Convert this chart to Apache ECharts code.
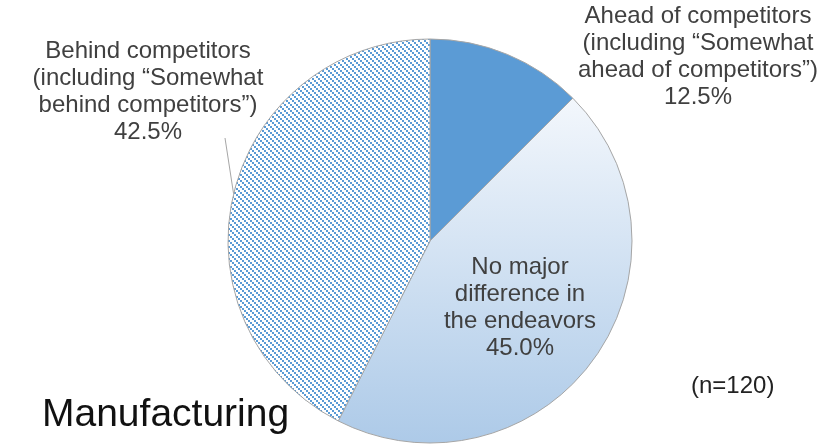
<!DOCTYPE html>
<html>
<head>
<meta charset="utf-8">
<script src="https://cdn.jsdelivr.net/npm/echarts@6/dist/echarts.min.js"></script>
<style>
html,body{margin:0;padding:0;background:#fff;}
#chart{width:837px;height:448px;}
</style>
</head>
<body>
<div id="chart"></div>
<script>
// Data
var categories = [
  'Ahead of competitors\n(including \u201cSomewhat\nahead of competitors\u201d)',
  'No major\ndifference in\nthe endeavors',
  'Behind competitors\n(including \u201cSomewhat\nbehind competitors\u201d)'
];
var values = [12.5, 45.0, 42.5];
var chartTitle = 'Manufacturing';
var sampleNote = '(n=120)';

// Hatch pattern for "Behind"
function makeHatch() {
  var c = document.createElement('canvas');
  c.width = 6; c.height = 6;
  var ctx = c.getContext('2d');
  ctx.fillStyle = '#ffffff';
  ctx.fillRect(0, 0, 6, 6);
  ctx.fillStyle = '#5b9bd5';
  ctx.fillRect(0, 0, 2, 2);
  ctx.fillRect(2, 2, 2, 2);
  ctx.fillRect(4, 4, 2, 2);
  return c;
}

var labelPos = [
  {x: 698, y: 57},
  {x: 520, y: 308},
  {x: 148, y: 92}
];

var styles = [
  {color: '#5b9bd5'},
  {color: {type: 'linear', x: 0, y: 0, x2: 0, y2: 1, colorStops: [
    {offset: 0, color: '#f3f7fc'},
    {offset: 1, color: '#adcae8'}
  ]}},
  {color: {image: makeHatch(), repeat: 'repeat'}}
];

var chart = echarts.init(document.getElementById('chart'), null, {renderer: 'canvas'});

var data = categories.map(function (name, i) {
  return {
    name: name,
    value: values[i],
    itemStyle: styles[i],
    labelLine: {show: i === 2}
  };
});

var option = {
  backgroundColor: '#ffffff',
  animation: false,
  title: [
    {text: chartTitle, left: 37, top: 391,
     textStyle: {fontFamily: 'Liberation Sans, Arial', fontSize: 39, fontWeight: 'normal', color: '#111111'}},
    {text: sampleNote, left: 686, top: 369,
     textStyle: {fontFamily: 'Liberation Sans, Arial', fontSize: 24, fontWeight: 'normal', color: '#222222'}}
  ],
  series: [{
    type: 'pie',
    center: [430, 241],
    radius: 202,
    startAngle: 90,
    clockwise: true,
    silent: true,
    itemStyle: {borderColor: '#a6a6a6', borderWidth: 1},
    label: {
      show: true,
      position: 'outside',
      overflow: 'none',
      width: 300,
      formatter: function (p) { return p.name + '\n' + p.value.toFixed(1) + '%'; },
      fontFamily: 'Liberation Sans, Arial',
      fontSize: 24,
      lineHeight: 27,
      color: '#404040',
      align: 'center'
    },
    labelLine: {lineStyle: {color: '#a6a6a6', width: 1}},
    labelLayout: function (params) {
      var p = labelPos[params.dataIndex];
      var res = {x: p.x, y: p.y, align: 'center', verticalAlign: 'middle'};
      if (params.dataIndex === 2 && params.labelLinePoints) {
        var s = params.labelLinePoints[0];
        res.labelLinePoints = [s, [225, 138], [225, 138]];
      }
      return res;
    },
    data: data
  }]
};
chart.setOption(option);
</script>
</body>
</html>
